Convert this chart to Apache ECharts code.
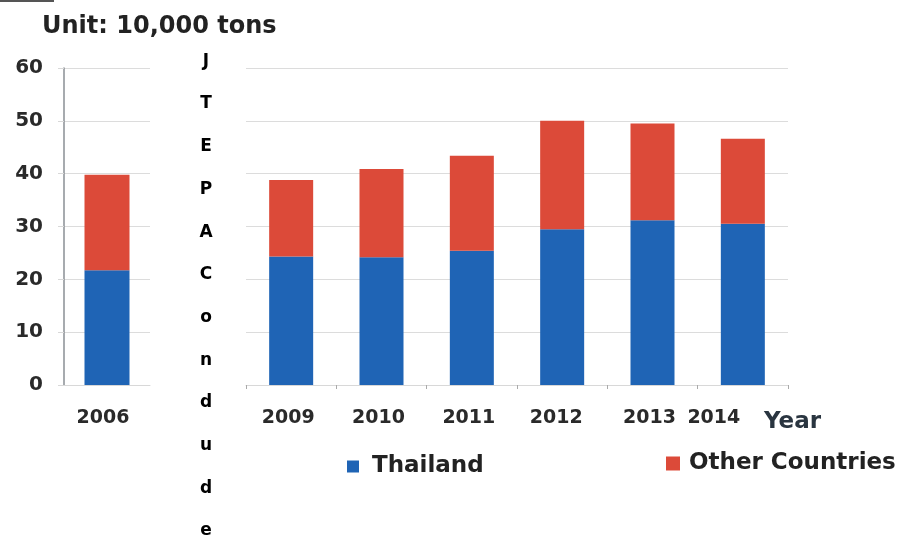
<!DOCTYPE html>
<html>
<head>
<meta charset="utf-8">
<script src="https://cdn.jsdelivr.net/npm/echarts@6/dist/echarts.min.js"></script>
<style>html,body{margin:0;padding:0;background:#fff;}#c{width:908px;height:537px;}</style>
</head>
<body>
<div id="c"></div>
<script>
const yearsBefore = ['2006'];
const yearsAfter = ['2009', '2010', '2011', '2012', '2013', '2014'];
const thailandBefore = [21.7];
const othersBefore = [18.1];
const thailandAfter = [24.3, 24.2, 25.4, 29.5, 31.2, 30.5];
const othersAfter = [14.5, 16.7, 18.0, 20.5, 18.3, 16.1];
const yTicks = [0, 10, 20, 30, 40, 50, 60];
const markerLetters = ['J', 'T', 'E', 'P', 'A', 'C', 'o', 'n', 'd', 'u', 'd', 'e'];

const FONT = 'DejaVu Sans';
const BLUE = '#1f64b5';
const RED = '#dc4a39';

const chart = echarts.init(document.getElementById('c'));

const richText = markerLetters.map((ch, i) =>
  '{' + ((i === 0 || i === 2 || i === 3) ? 'm' : 'd') + '|' + ch + '}').join('\n');

const axisLabelStyle = { fontFamily: FONT, fontWeight: 'bold', fontSize: 19, color: '#2a2a2a' };

const option = {
  animation: false,
  backgroundColor: '#fff',
  title: {
    text: 'Unit: 10,000 tons',
    left: 37, top: 10,
    textStyle: { fontFamily: FONT, fontWeight: 'bold', fontSize: 24, color: '#222' }
  },
  legend: [
    {
      data: ['Thailand'], left: 342, top: 450, icon: 'rect', itemWidth: 12, itemHeight: 12,
      textStyle: { fontFamily: FONT, fontWeight: 'bold', fontSize: 23, color: '#222', padding: [0, 0, 0, 8] }
    },
    {
      data: ['Other Countries'], left: 661, top: 447, icon: 'rect', itemWidth: 14, itemHeight: 14,
      textStyle: { fontFamily: FONT, fontWeight: 'bold', fontSize: 23, color: '#222', padding: [0, 0, 0, 4] }
    }
  ],
  grid: [
    { left: 64, top: 68, width: 86, height: 317 },
    { left: 246, top: 68, width: 542, height: 317 }
  ],
  xAxis: [
    {
      type: 'category', gridIndex: 0, data: yearsBefore,
      axisLine: { show: true, lineStyle: { color: '#d8d8d8' } },
      axisTick: { show: false },
      axisLabel: Object.assign({ margin: 24, padding: [0, 8, 0, 0] }, axisLabelStyle)
    },
    {
      type: 'category', gridIndex: 1,
      data: yearsAfter.map(y => y === '2014'
        ? { value: y, textStyle: { padding: [0, 58, 0, 0] } }
        : (y === '2012' ? { value: y, textStyle: { padding: [0, 12, 0, 0] } } : { value: y, textStyle: { padding: [0, 6, 0, 0] } })),
      axisLine: { show: true, lineStyle: { color: '#d8d8d8' } },
      axisTick: { show: true, length: 4, lineStyle: { color: '#aaa' } },
      axisLabel: Object.assign({ margin: 24 }, axisLabelStyle)
    }
  ],
  yAxis: [
    {
      type: 'value', gridIndex: 0, min: 0, max: 60, interval: 10,
      axisLine: { show: true, lineStyle: { color: '#8a8f94', width: 1.5 } },
      axisTick: { show: true, length: 6, lineStyle: { color: '#d8d8d8' } },
      splitLine: { show: true, lineStyle: { color: '#dcdcdc' } },
      axisLabel: Object.assign({ margin: 21, formatter: v => yTicks.includes(v) ? String(v) : '' }, axisLabelStyle, { fontSize: 20 })
    },
    {
      type: 'value', gridIndex: 1, min: 0, max: 60, interval: 10,
      axisLine: { show: false },
      axisTick: { show: false },
      splitLine: { show: true, lineStyle: { color: '#dcdcdc' } },
      axisLabel: { show: false }
    }
  ],
  series: [
    { name: 'Thailand', type: 'bar', stack: 'a', xAxisIndex: 0, yAxisIndex: 0, barWidth: 45,
      itemStyle: { color: BLUE }, data: thailandBefore },
    { name: 'Other Countries', type: 'bar', stack: 'a', xAxisIndex: 0, yAxisIndex: 0, barWidth: 45,
      itemStyle: { color: RED }, data: othersBefore },
    { name: 'Thailand', type: 'bar', stack: 'b', xAxisIndex: 1, yAxisIndex: 1, barWidth: 44,
      itemStyle: { color: BLUE }, data: thailandAfter },
    { name: 'Other Countries', type: 'bar', stack: 'b', xAxisIndex: 1, yAxisIndex: 1, barWidth: 44,
      itemStyle: { color: RED }, data: othersAfter }
  ],
  graphic: [
    {
      type: 'text', left: 764, top: 411,
      style: { text: 'Year', fontFamily: FONT, fontWeight: 'bold', fontSize: 23, fill: '#2a3540' }
    },
    {
      type: 'text', x: 206, y: 40,
      style: {
        text: richText, align: 'center',
        rich: {
          m: { fontFamily: FONT, fontWeight: 'bold', fontSize: 17, color: '#6e2b3f', lineHeight: 42.7, align: 'center' },
          d: { fontFamily: FONT, fontWeight: 'bold', fontSize: 17, color: '#3a4855', lineHeight: 42.7, align: 'center' }
        }
      }
    },
    {
      type: 'line', shape: { x1: 0, y1: 1, x2: 54, y2: 1 },
      style: { stroke: '#555', lineWidth: 2 }
    }
  ]
};
chart.setOption(option);
</script>
</body>
</html>
